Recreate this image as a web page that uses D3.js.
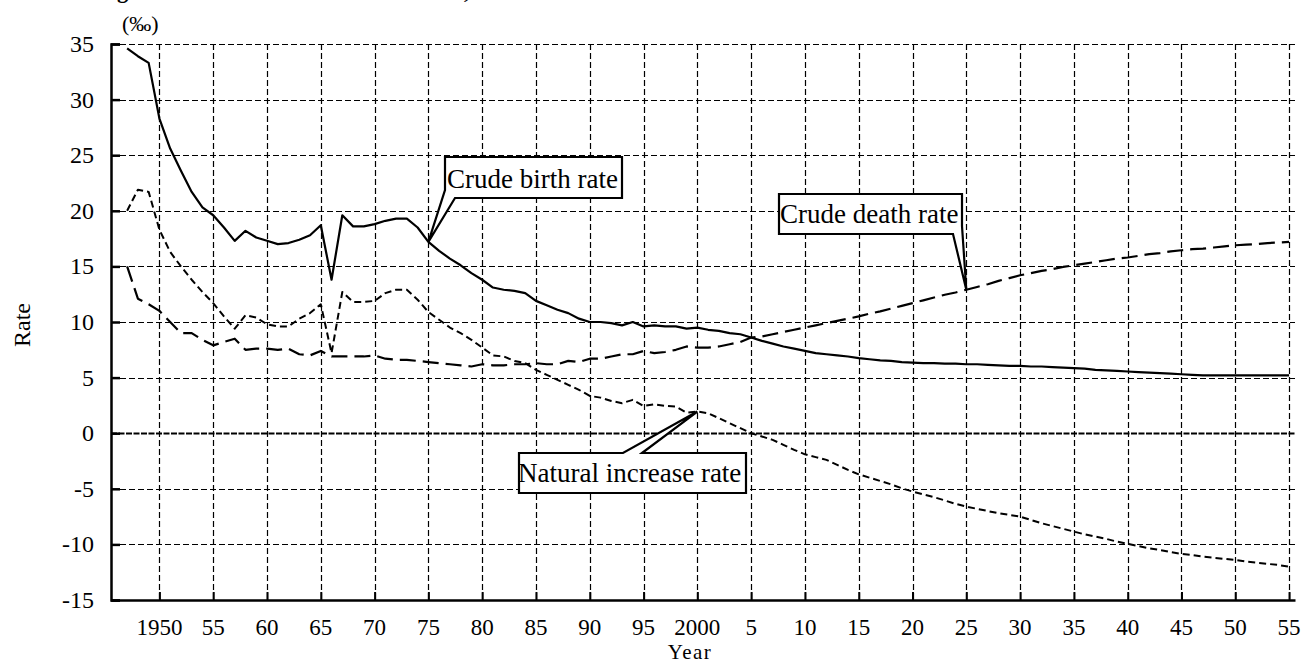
<!DOCTYPE html>
<html>
<head>
<meta charset="utf-8">
<script src="https://cdn.jsdelivr.net/npm/d3@7"></script>
<style>
  body { margin: 0; background: #fff; }
  text { font-family: "Liberation Serif", "Times New Roman", serif; fill: #000; }
</style>
</head>
<body>
<div id="plot"></div>
<script>

// years 1947 .. 2055
const YEARS = d3.range(1947, 2056)

const BIRTH = [
  34.6, 33.9, 33.3, 28.3, 25.6, 23.6, 21.7, 20.3, 19.6, 18.5,   // 1947-56
  17.3, 18.2, 17.6, 17.3, 17.0, 17.1, 17.4, 17.8, 18.7, 13.8,   // 1957-66
  19.6, 18.6, 18.6, 18.8, 19.1, 19.3, 19.3, 18.5, 17.2, 16.4,   // 1967-76
  15.7, 15.1, 14.4, 13.8, 13.1, 12.9, 12.8, 12.6, 11.9, 11.5,   // 1977-86
  11.1, 10.8, 10.3, 10.0, 10.0, 9.9, 9.7, 10.0, 9.6, 9.7,       // 1987-96
  9.6, 9.6, 9.4, 9.5, 9.3, 9.2, 9.0, 8.9, 8.6, 8.3,             // 1997-2006
  8.05, 7.8, 7.6, 7.4, 7.2, 7.1, 7.0, 6.9, 6.75, 6.65,          // 2007-16
  6.55, 6.5, 6.4, 6.35, 6.3, 6.3, 6.25, 6.25, 6.2, 6.2,         // 2017-26
  6.15, 6.1, 6.05, 6.05, 6.0, 6.0, 5.95, 5.9, 5.85, 5.8,        // 2027-36
  5.7, 5.65, 5.6, 5.55, 5.5, 5.45, 5.4, 5.35, 5.3, 5.25,        // 2037-46
  5.2, 5.2, 5.2, 5.2, 5.2, 5.2, 5.2, 5.2, 5.2                   // 2047-55
]

const DEATH = [
  15.0, 12.1, 11.6, 11.0, 10.0, 9.0, 9.0, 8.4, 7.9, 8.2,
  8.5, 7.5, 7.6, 7.6, 7.5, 7.6, 7.1, 7.0, 7.4, 6.9,
  6.9, 6.9, 6.9, 7.0, 6.7, 6.6, 6.6, 6.5, 6.4, 6.3,
  6.2, 6.1, 6.0, 6.2, 6.1, 6.1, 6.2, 6.2, 6.3, 6.2,
  6.2, 6.5, 6.4, 6.7, 6.7, 6.9, 7.1, 7.1, 7.4, 7.2,
  7.3, 7.5, 7.8, 7.7, 7.7, 7.8, 8.0, 8.2, 8.6, 8.7,
  8.9, 9.1, 9.3, 9.5, 9.7, 9.9, 10.1, 10.3, 10.5, 10.75,
  10.95, 11.2, 11.45, 11.7, 11.95, 12.2, 12.45, 12.65, 12.9, 13.15,
  13.4, 13.7, 13.95, 14.2, 14.4, 14.6, 14.75, 14.95, 15.1, 15.25,
  15.4, 15.55, 15.7, 15.8, 15.95, 16.1, 16.2, 16.35, 16.45, 16.55,
  16.6, 16.7, 16.8, 16.9, 16.95, 17.0, 17.1, 17.15, 17.2
]

const NATURAL = [
  20.0, 21.9, 21.7, 18.3, 16.3, 15.0, 13.8, 12.7, 11.7, 10.5,
  9.4, 10.6, 10.4, 9.8, 9.6, 9.6, 10.3, 10.8, 11.6, 7.2,
  12.7, 11.8, 11.8, 11.9, 12.6, 12.9, 12.9, 12.0, 10.9, 10.2,
  9.5, 9.0, 8.4, 7.7, 7.0, 6.9, 6.5, 6.3, 5.7, 5.25,
  4.8, 4.35, 3.9, 3.35, 3.2, 2.9, 2.7, 3.0, 2.45, 2.6,
  2.45, 2.4, 1.85, 1.95, 1.8, 1.35, 0.9, 0.45, 0.0, -0.3,
  -0.6, -1.05, -1.5, -1.9, -2.15, -2.4, -2.85, -3.3, -3.7, -4.0,
  -4.3, -4.6, -4.95, -5.25, -5.5, -5.75, -6.05, -6.35, -6.6, -6.8,
  -7.0, -7.2, -7.35, -7.5, -7.8, -8.1, -8.35, -8.6, -8.85, -9.1,
  -9.3, -9.5, -9.75, -9.95, -10.15, -10.35, -10.5, -10.7, -10.85, -10.95,
  -11.1, -11.2, -11.3, -11.4, -11.55, -11.65, -11.75, -11.85, -12.0
]

const X_TICKS = [1950, 1955, 1960, 1965, 1970, 1975, 1980, 1985, 1990, 1995, 2000,
                 2005, 2010, 2015, 2020, 2025, 2030, 2035, 2040, 2045, 2050, 2055]
const X_LABELS = ["1950", "55", "60", "65", "70", "75", "80", "85", "90", "95", "2000",
                  "5", "10", "15", "20", "25", "30", "35", "40", "45", "50", "55"]
const Y_TICKS = [35, 30, 25, 20, 15, 10, 5, 0, -5, -10, -15]

let width = 1305
let height = 664

let svg = d3.select("#plot")
  .append("svg")
    .attr("width", width)
    .attr("height", height)

let x = d3.scaleLinear()
  .domain([1945.5, 2055.55])
  .range([111, 1295])

let y = d3.scaleLinear()
  .domain([-15, 35])
  .range([600, 44])

// title, mostly cut off at the top edge (as in the source)
svg.append("text")
  .attr("x", 97)
  .attr("y", -2)
  .style("font-size", "22.5px")
  .style("font-weight", "bold")
  .text("Figure 12  Crude birth and death rates, 1947-2055")

// dashed grid
svg.append("g")
  .selectAll("line")
  .data(Y_TICKS.filter(d => d > -15))
  .enter()
  .append("line")
    .attr("x1", x.range()[0])
    .attr("x2", x.range()[1])
    .attr("y1", d => Math.round(y(d)) + 0.5)
    .attr("y2", d => Math.round(y(d)) + 0.5)
    .style("stroke", "#000")
    .style("stroke-width", d => d == 0 ? 2 : 1.2)
    .style("stroke-dasharray", d => d == 0 ? "6,1.5" : "6,3")

svg.append("g")
  .selectAll("line")
  .data(X_TICKS)
  .enter()
  .append("line")
    .attr("x1", d => Math.round(x(d)) + 0.5)
    .attr("x2", d => Math.round(x(d)) + 0.5)
    .attr("y1", y(35))
    .attr("y2", y(-15))
    .style("stroke", "#000")
    .style("stroke-width", 1.2)
    .style("stroke-dasharray", "6,3")

// axes (ticks point inward)
let yAxis = svg.append("g")
  .attr("transform", "translate(" + x.range()[0] + ",0)")
  .call(d3.axisRight(y).tickValues(Y_TICKS).tickSize(9).tickFormat(""))
yAxis.select(".domain").style("stroke-width", 2.5)
yAxis.selectAll(".tick line").style("stroke-width", 2.5)

let xAxis = svg.append("g")
  .attr("transform", "translate(0," + y(-15) + ")")
  .call(d3.axisTop(x).tickValues(X_TICKS).tickSize(8).tickFormat("").tickSizeOuter(0))
xAxis.select(".domain").style("stroke-width", 2.5)
xAxis.selectAll(".tick line").style("stroke-width", 2)

// tick labels
svg.append("g")
  .selectAll("text")
  .data(Y_TICKS)
  .enter()
  .append("text")
    .attr("x", 94)
    .attr("y", d => y(d))
    .attr("dy", "0.33em")
    .style("text-anchor", "end")
    .style("font-size", "24px")
    .text(d => d)

svg.append("g")
  .selectAll("text")
  .data(X_TICKS)
  .enter()
  .append("text")
    .attr("x", d => x(d))
    .attr("y", 635)
    .style("text-anchor", "middle")
    .style("font-size", "23px")
    .text((d, i) => X_LABELS[i])

svg.append("text")
  .attr("x", 690)
  .attr("y", 659)
  .style("text-anchor", "middle")
  .style("font-size", "21px")
  .style("letter-spacing", "1.5px")
  .text("Year")

svg.append("text")
  .style("text-anchor", "middle")
  .attr("transform", "translate(30,325) rotate(-90)")
  .style("font-size", "24px")
  .text("Rate")

svg.append("text")
  .attr("x", 122)
  .attr("y", 31)
  .style("font-size", "22px")
  .text("(‰)")

// the three series
function drawLine(values, dash, w) {
  let line = d3.line()
    .x((d, i) => x(YEARS[i]))
    .y(d => y(d))
  svg.append("path")
    .datum(values)
    .attr("d", line)
    .style("fill", "none")
    .style("stroke", "#000")
    .style("stroke-width", w)
    .style("stroke-linejoin", "round")
    .style("stroke-dasharray", dash)
}

drawLine(NATURAL, "7,4", 2)
drawLine(DEATH, "16,7", 2.2)
drawLine(BIRTH, null, 2.2)

// callout boxes, pointer tip sits on the data point
function callout(tx, ty, pts, label, lx, ly) {
  let p = pts.map(d => d.join(",")).join(" L ")
  svg.append("path")
    .attr("d", "M " + p.replace("TIP", tx + "," + ty) + " Z")
    .style("fill", "#fff")
    .style("stroke", "#000")
    .style("stroke-width", 2.2)
    .style("stroke-linejoin", "miter")
  svg.append("text")
    .attr("x", lx)
    .attr("y", ly)
    .style("font-size", "27px")
    .text(label)
}

let bi = YEARS.indexOf(1975)
let bx = x(1975), by = y(BIRTH[bi])
callout(bx, by,
  [[445, 190], [445, 157], [622, 157], [622, 198], [455, 198], ["TIP"]],
  "Crude birth rate", 447, 188)

let di = YEARS.indexOf(2025)
let dx = x(2025), dy = y(DEATH[di])
callout(dx, dy,
  [[779, 194], [962, 194], [962, 226], ["TIP"], [953, 234], [779, 234]],
  "Crude death rate", 780, 223)

let ni = YEARS.indexOf(2000)
let nx = x(2000), ny = y(NATURAL[ni])
callout(nx, ny,
  [[519, 453], [623, 453], ["TIP"], [642, 453], [746, 453], [746, 493], [519, 493]],
  "Natural increase rate", 518, 482)

</script>
</body>
</html>
